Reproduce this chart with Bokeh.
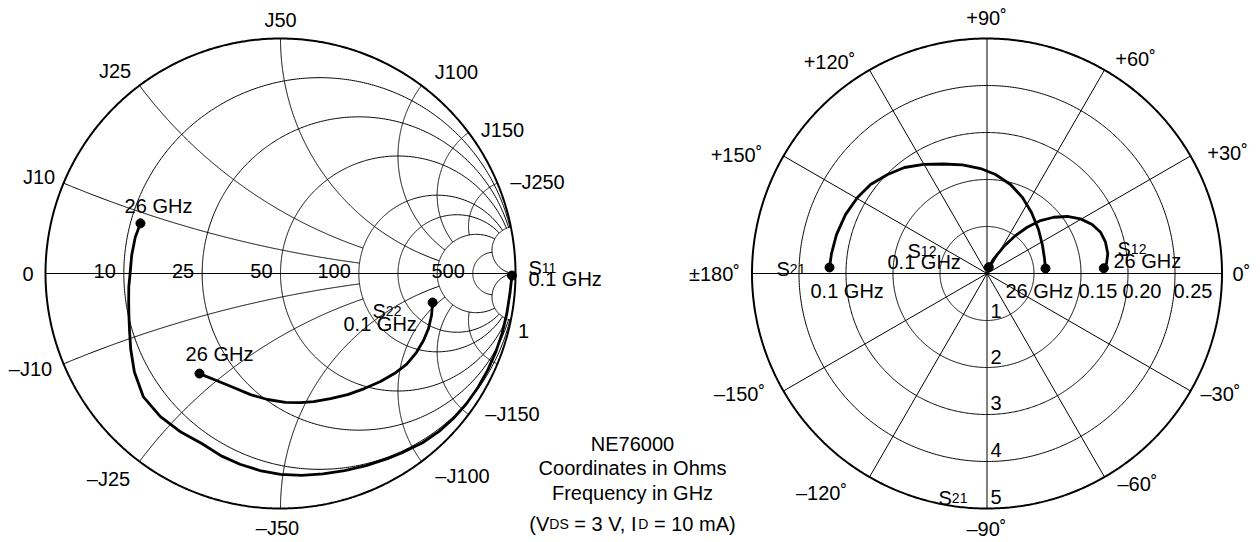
import numpy as np
from bokeh.plotting import figure
from bokeh.models import Range1d, Label
from bokeh.embed import file_html
from bokeh.resources import INLINE

# ---------------- data ----------------
# Smith chart reflection coefficients, 0.1 GHz -> 26 GHz: magnitude, angle (deg)
s11_mag = [0.985, 0.980, 0.978, 0.977, 0.975, 0.973, 0.970, 0.966, 0.960, 0.952, 0.940, 0.921,
           0.910, 0.895, 0.882, 0.872, 0.864, 0.855, 0.843, 0.830, 0.816, 0.797, 0.797, 0.795,
           0.785, 0.750, 0.715, 0.688, 0.668, 0.656, 0.648, 0.640, 0.638, 0.637, 0.633]
s11_ang = [-0.5, -5, -10, -15, -20, -25, -30, -35, -40, -45, -50, -56,
           -60, -66, -72, -78, -84, -90, -96, -102, -108, -115, -122, -130,
           -138, -146, -153, -159, -165, -170, -175, 180, 173, 166, 160.3]
s22_mag = [0.659, 0.667, 0.672, 0.672, 0.669, 0.661, 0.645, 0.626, 0.606, 0.589, 0.573,
           0.563, 0.556, 0.549, 0.539, 0.531, 0.525, 0.531, 0.548]
s22_ang = [-10.8, -15.5, -20.4, -25.1, -30.2, -35.8, -41.3, -47.2, -53.9, -61.0, -68.2,
           -75.5, -81.2, -87.8, -95.9, -103.9, -112.4, -120.9, -129.0]
# Polar chart: S21 (ring step = 1), S12 (ring step = 0.05)
s21_mag = [3.353, 3.336, 3.308, 3.262, 3.195, 3.119, 2.986, 2.858, 2.684, 2.507,
           2.367, 2.238, 2.114, 1.959, 1.785, 1.607, 1.441, 1.323, 1.264, 1.249]
s21_ang = [177.8, 172.7, 165.5, 157.4, 149.6, 142.6, 135.1, 127.9, 120.2, 111.7,
           102.7, 93.5, 85.1, 75.2, 65.0, 53.9, 40.5, 26.8, 14.6, 4.9]
s12_mag = [0.0070, 0.0172, 0.0338, 0.0505, 0.0652, 0.0801, 0.0929, 0.1047,
           0.1152, 0.1235, 0.1285, 0.1304, 0.1302, 0.1275, 0.1244]
s12_ang = [74.1, 65.2, 58.1, 53.1, 49.0, 44.7, 40.1, 35.4,
           30.3, 25.0, 20.0, 14.8, 9.3, 4.6, 2.6]

# Smith grid
r_circles = [0.2, 0.5, 1, 2, 3, 5, 10]
x_arcs = [0.2, 0.5, 1, 2, 3, 5, 10]
x_arc_end_r = [2, 2, 5, 5, 5, 5, None]
res_labels = ["10", "25", "50", "100", "500"]
res_label_r = [0.2, 0.5, 1, 2, 10]

# Polar grid
ring_values_s21 = [1, 2, 3, 4, 5]
ring_labels_s12 = ["0.15", "0.20", "0.25"]
spoke_angles = [0, 30, 60, 90, 120, 150]
angle_labels = ["+90˚", "+60˚", "+30˚", "0˚", "–30˚", "–60˚", "–90˚", "–120˚", "–150˚", "±180˚", "+150˚", "+120˚"]

info_lines = ["NE76000", "Coordinates in Ohms", "Frequency in GHz"]

# ---------------- geometry ----------------
W, H = 1260, 542
PX = 235.0             # pixels per unit radius
SX, SY = 280.0, 273.0  # smith centre (page px)
PCX = 986.5            # polar centre x (page px)
FONT = "Liberation Sans"


def dx(px):
    return (px - SX) / PX


def dy(py):
    return (SY - py) / PX


p = figure(width=W, height=H, output_backend="svg", toolbar_location=None,
           x_range=Range1d(dx(0), dx(W)), y_range=Range1d(dy(H), dy(0)),
           min_border=0)
p.axis.visible = False
p.grid.visible = False
p.outline_line_color = None
p.background_fill_color = "white"

GRID = dict(line_color="black", line_width=1.0)

# ---- Smith chart grid ----
t = np.linspace(0, 2 * np.pi, 720)
p.line(np.cos(t), np.sin(t), line_color="black", line_width=2.0)
p.line([-1, 1], [0, 0], **GRID)
for r in r_circles:
    xx = np.tan(np.linspace(-np.arctan(10), np.arctan(10), 600))
    z = r + 1j * xx
    g = (z - 1) / (z + 1)
    p.line(g.real, g.imag, **GRID)
for xv, rend in zip(x_arcs, x_arc_end_r):
    if rend is None:
        rr = np.tan(np.linspace(0, np.pi / 2 - 1e-3, 600))
    else:
        rr = np.tan(np.linspace(0, np.arctan(rend), 400))
    for sgn in (1, -1):
        z = rr + 1j * sgn * xv
        g = (z - 1) / (z + 1)
        gx = list(g.real)
        gy = list(g.imag)
        if rend is None:
            gx.append(1.0)
            gy.append(0.0)
        p.line(gx, gy, **GRID)

# ---- Polar grid ----
pcx = dx(PCX)
unit = 0.2
for k in ring_values_s21:
    lw = 2.0 if k == ring_values_s21[-1] else 1.0
    p.line(pcx + k * unit * np.cos(t), k * unit * np.sin(t), line_color="black", line_width=lw)
for a in spoke_angles:
    ar = np.deg2rad(a)
    p.line([pcx - np.cos(ar), pcx + np.cos(ar)], [-np.sin(ar), np.sin(ar)], **GRID)

# ---------------- text helpers ----------------
CW = {".": .278, " ": .278, "\u00a0": .278, ",": .278, "G": .778, "H": .722, "z": .5, "S": .667, "J": .5,
      "–": .556, "+": .584, "±": .584, "˚": .333, "(": .333, ")": .333, "V": .667, "D": .722,
      "I": .278, "=": .584, "m": .833, "A": .667, "N": .722, "E": .667}

bg_layer = []
text_layer = []


def tw(s, size):
    return sum(CW.get(c, .556) for c in s) * size


def label(px, py, text, size=20, align="center", baseline="middle", bg=True):
    text = text.replace(" ", "\u00a0")
    common = dict(x=dx(px), y=dy(py), text=text, text_font=FONT,
                  text_font_size=f"{size}px", text_align=align, text_baseline=baseline)
    if bg:
        bg_layer.append(Label(text_alpha=0.0, background_fill_color="white", **common))
    text_layer.append(Label(text_color="black", **common))


def rich(px, py_base, parts, align="left", bg=True):
    total = sum(tw(s, sz) for s, sz in parts)
    x0 = px - total / 2 if align == "center" else px
    for s, sz in parts:
        label(x0, py_base, s, size=sz, align="left", baseline="alphabetic", bg=bg)
        x0 += tw(s, sz)


# ---------------- data curves ----------------
def smith_xy(mag, ang):
    m = np.asarray(mag)
    a = np.deg2rad(np.asarray(ang))
    return m * np.cos(a), m * np.sin(a)


def polar_xy(mag, ang, scale):
    m = np.asarray(mag) * scale
    a = np.deg2rad(np.asarray(ang))
    return pcx + m * np.cos(a), m * np.sin(a)


CURVE = dict(line_color="black", line_width=2.8, line_join="round", line_cap="round")
curves = [smith_xy(s11_mag, s11_ang), smith_xy(s22_mag, s22_ang),
          polar_xy(s21_mag, s21_ang, unit), polar_xy(s12_mag, s12_ang, unit / 0.05)]

# ---------------- labels ----------------
for txt, (x, y) in [("J50", (280, 19.5)), ("J25", (114.5, 70)), ("J10", (38.5, 176)), ("0", (27.5, 273)),
                    ("–J10", (30, 368)), ("–J25", (108, 478)), ("–J50", (277, 527)),
                    ("–J100", (462, 475)), ("–J150", (512, 413)), ("1", (523, 330)),
                    ("–J250", (537, 181)), ("J150", (502, 129)), ("J100", (456, 71))]:
    label(x, y, txt, bg=False)
for txt, r in zip(res_labels, res_label_r):
    gx = (r - 1) / (r + 1)
    label(SX + gx * PX - 8, 270, txt, align="right", baseline="alphabetic")

label(158, 205, "26 GHz")
label(219, 353.5, "26 GHz")
rich(372, 310, [("S", 20), ("22", 14)])
label(343, 323.5, "0.1 GHz", align="left")
rich(528, 267, [("S", 20), ("11", 14)], bg=False)
label(528, 278, "0.1 GHz", align="left", bg=False)

for txt, (x, y) in zip(angle_labels, [(986, 17), (1135, 58), (1227, 152), (1241, 273), (1220, 393),
                                      (1137, 483), (986, 528), (821, 492), (739, 393), (714, 273),
                                      (736, 154), (829, 61)]):
    label(x, y, txt, bg=False)
rich(776, 268, [("S", 20), ("21", 14)])
label(810, 290.5, "0.1 GHz", align="left")
rich(907, 250, [("S", 20), ("12", 14)])
label(887, 261.5, "0.1 GHz", align="left")
rich(1117, 248, [("S", 20), ("12", 14)])
label(1113, 260, "26 GHz", align="left")
label(1005, 290.5, "26 GHz", align="left")
for txt, xl in zip(ring_labels_s12, [1078, 1122, 1173]):
    label(xl, 290.5, txt, align="left")
for k, yc in zip(ring_values_s21, [310, 356, 402, 449, 496]):
    label(990, yc, str(k), align="left")
rich(938, 497, [("S", 20), ("21", 14)])

for i, s in enumerate(info_lines):
    label(632, 443 + 24.5 * i, s, bg=False)
rich(632, 523, [("(V", 20), ("DS", 14), (" = 3 V, I", 20), ("D", 14), (" = 10 mA)", 20)],
     align="center", bg=False)

for lb in bg_layer:
    p.add_layout(lb)
for lb in text_layer:
    p.add_layout(lb)

for cx, cy in curves:
    p.line(cx, cy, **CURVE)
    p.scatter([cx[0], cx[-1]], [cy[0], cy[-1]], size=9, color="black")

open("out.html", "w").write(file_html(p, INLINE))
